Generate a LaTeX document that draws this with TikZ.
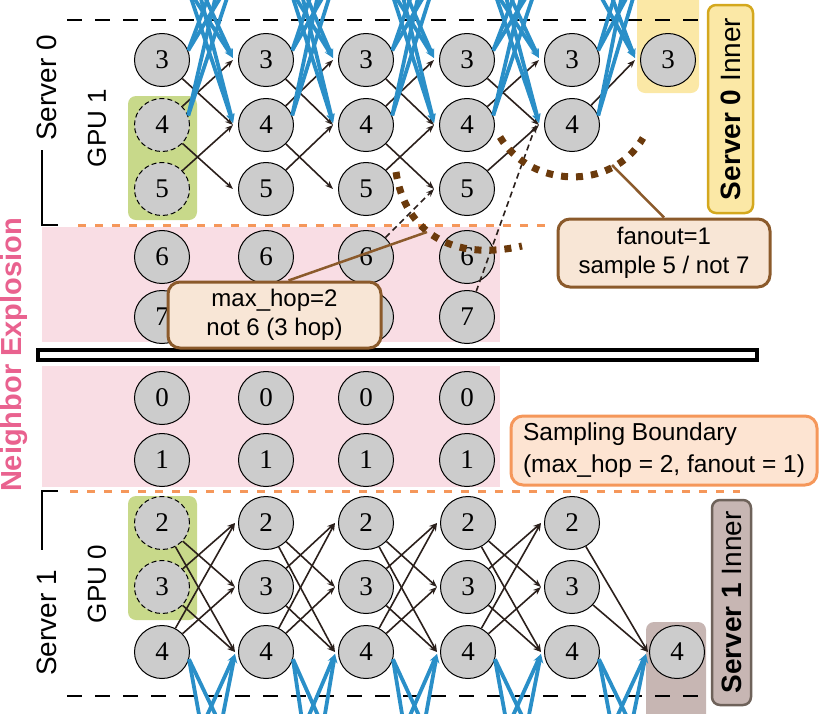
\documentclass[tikz,border=0pt]{standalone}
\usepackage{fontspec}
\setmainfont{Liberation Sans}
\newfontfamily\digitfont{Liberation Serif}
\usetikzlibrary{arrows.meta,calc,shapes.geometric}
\definecolor{nodegray}{HTML}{CCCCCC}
\definecolor{edgeblk}{HTML}{2B201C}
\definecolor{blueE}{HTML}{2A8FC8}
\definecolor{pinkband}{HTML}{F9DDE4}
\definecolor{gpugreen}{HTML}{C8D98A}
\definecolor{orangeD}{HTML}{F5975A}
\definecolor{brownD}{HTML}{6B3A0C}
\definecolor{brownL}{HTML}{8B5A2B}
\definecolor{peach}{HTML}{F8E6D6}
\definecolor{peachB}{HTML}{FDE4D2}
\definecolor{yelF}{HTML}{FBE8A6}
\definecolor{yelD}{HTML}{D4A81E}
\definecolor{sF}{HTML}{C7B6B3}
\definecolor{sD}{HTML}{6E625A}
\definecolor{explo}{HTML}{E9628F}
\begin{document}
\begin{tikzpicture}[x=1pt,y=-1pt,
  vtx/.style={ellipse,draw=black,line width=1pt,fill=nodegray,minimum width=55pt,minimum height=53pt,inner sep=0pt,font=\digitfont\fontsize{27}{27}\selectfont},
  vtxd/.style={vtx,dash pattern=on 5pt off 3pt},
  blk/.style={draw=edgeblk,line width=1.6pt,-{Stealth[length=8pt,width=6pt]}},
  bedge/.style={draw=blueE,line width=3.8pt},
  barrow/.style={bedge,-{Stealth[length=9pt,width=8pt]}},
  sidelbl/.style={rotate=90,inner sep=0pt},
  callout/.style={rounded corners=12pt,line width=3pt,align=center,font=\fontsize{24}{29}\selectfont,inner sep=3pt},
  dotcurve/.style={draw=brownD,line width=7pt,dash pattern=on 7pt off 8pt},
  conn/.style={draw=brownL,line width=2.5pt},
]
\useasboundingbox (0,0) rectangle (830,713);
\clip (0,0) rectangle (830,713);

% backgrounds
\fill[pinkband] (42,227) rectangle (500,342);
\fill[pinkband] (42,366) rectangle (500,487);
\fill[gpugreen,rounded corners=8pt] (128,96) rectangle (197,220);
\fill[gpugreen,rounded corners=8pt] (128,496) rectangle (197,620);
\fill[yelF,rounded corners=8pt] (637,-12) rectangle (699,93);
\fill[sF,rounded corners=8pt] (646,622) rectangle (706,730);

% boundaries
\draw[line width=2pt,dash pattern=on 15pt off 13pt] (67,20) -- (703,20);
\draw[line width=2pt,dash pattern=on 15pt off 13pt] (67,696) -- (707,696);
\draw[orangeD,line width=3pt,dash pattern=on 8pt off 9pt] (78,225) -- (552,225);
\draw[orangeD,line width=3pt,dash pattern=on 8pt off 9pt] (70,491) -- (740,491);
\draw[line width=1.3pt] (58,225) -- (42,225) -- (42,150);
\draw[line width=1.3pt] (58,491) -- (42,491) -- (42,550);

% side labels
\node[sidelbl,font=\fontsize{28}{28}\selectfont] (s0) at (47,88) {Server 0};
\node[sidelbl,font=\fontsize{26}{26}\selectfont] (g1) at (97,128) {GPU 1};
\node[sidelbl,font=\fontsize{28}{28}\selectfont] (s1) at (47,623) {Server 1};
\node[sidelbl,font=\fontsize{26}{26}\selectfont] (g0) at (97,584) {GPU 0};
\node[sidelbl,font=\bfseries\fontsize{29}{29}\selectfont,text=explo] (ne) at (14,355) {Neighbor Explosion};

% top nodes
\foreach \c/\x in {1/266,2/366,3/467}{
  \foreach \r/\y in {3/60,4/125,5/189}{\node[vtx] (t\c\r) at (\x,\y) {\r};}
}
\node[vtx] (t03) at (162,60) {3};
\node[vtxd] (t04) at (162,125) {4};
\node[vtxd] (t05) at (162,189) {5};
\node[vtx] (t43) at (572,60) {3};
\node[vtx] (t44) at (572,125) {4};
\node[vtx] (t53) at (668,60) {3};
\foreach \c/\x in {0/162,1/266,2/366,3/467}{
  \node[vtx] (t\c6) at (\x,257) {6};
  \node[vtx] (t\c7) at (\x,317) {7};
  \node[vtx] (m\c0) at (\x,398) {0};
  \node[vtx] (m\c1) at (\x,460) {1};
}
% bottom nodes
\foreach \c/\x in {1/266,2/366,3/468,4/572}{
  \foreach \r/\y in {2/523,3/587,4/652}{\node[vtx] (b\c\r) at (\x,\y) {\r};}
}
\node[vtxd] (b02) at (162,523) {2};
\node[vtxd] (b03) at (162,587) {3};
\node[vtx] (b04) at (162,652) {4};
\node[vtx] (b54) at (677,652) {4};

% top black edges
\foreach \a/\b in {0/1,1/2,2/3}{
  \foreach \r/\s in {3/4,4/3,4/5,5/4}{\draw[blk] (t\a\r) -- ($(t\b\s.west)+(-5,0)$);}
}
\foreach \r/\s in {3/4,4/3,5/4}{\draw[blk] (t3\r) -- ($(t4\s.west)+(-5,0)$);}
\draw[blk] (t44) -- ($(t53.west)+(-5,0)$);
\draw[blk,dash pattern=on 6pt off 4pt] (t26) -- ($(t35.west)+(-5,0)$);
\draw[blk,dash pattern=on 6pt off 4pt] (t37) -- ($(t44.west)+(-8,0)$);

% bottom black edges
\foreach \a/\b in {0/1,1/2,2/3,3/4}{
  \foreach \r/\s in {2/3,2/4,3/2,3/4,4/2,4/3}{\draw[blk] (b\a\r) -- ($(b\b\s.west)+(-3,0)$);}
}
\draw[blk] (b42) -- ($(b54.west)+(-1,0)$);
\draw[blk] (b43) -- ($(b54.west)+(-1,0)$);

% top blue edges
\foreach \a/\b/\m in {0/1/214,1/2/316,2/3/416.5,3/4/519.5}{
  \draw[bedge] (t\a3.20) -- ({\m-5},-5);
  \draw[bedge] (t\a3.20) -- ({\m+8},-5);
  \draw[bedge] (t\a4.20) -- ({\m+2},-5);
  \draw[bedge] (t\a4.20) -- ({\m+14},-5);
  \draw[barrow] ({\m-22},-5) -- ($(t\b3.west)+(-5,-2)$);
  \draw[barrow] ({\m-10},-5) -- ($(t\b3.west)+(-5,-2)$);
  \draw[barrow] ({\m-24},-5) -- ($(t\b4.west)+(-5,-2)$);
  \draw[barrow] ({\m-14},-5) -- ($(t\b4.west)+(-5,-2)$);
}
\draw[bedge] (t43.20) -- (615,-5);
\draw[bedge] (t43.20) -- (628,-5);
\draw[bedge] (t44.20) -- (622,-5);
\draw[bedge] (t44.20) -- (634,-5);
\draw[barrow] (600,-5) -- ($(t53.west)+(-5,-2)$);
\draw[barrow] (611,-5) -- ($(t53.west)+(-5,-2)$);

% bottom blue edges
\foreach \a/\b/\m in {0/1/214,1/2/316,2/3/417,3/4/520,4/5/624.5}{
  \draw[bedge] (b\a4.-15) -- ({\m-14},720);
  \draw[bedge] (b\a4.-15) -- ({\m+4},720);
  \draw[barrow] ({\m-9},720) -- ($(b\b4.west)+(-3,2)$);
  \draw[barrow] ({\m+8},720) -- ($(b\b4.west)+(-3,2)$);
}

% separator bar
\draw[line width=3.5pt,fill=white] (38,350) rectangle (757,360);

% dotted boundaries
\draw[dotcurve] (396,172) .. controls (405,232) and (452,262) .. (522,246);
\draw[dotcurve] (500,137) .. controls (530,188) and (612,192) .. (643,138);

% callouts
\node[callout,draw=brownL,fill=peach,minimum width=212pt,minimum height=68pt] (fan) at (664,253) {fanout=1\\sample 5 / not 7};
\coordinate (fanend) at (612,165);
\draw[conn] (fan.north) -- (fanend);
\node[callout,draw=brownL,fill=peach,minimum width=213pt,minimum height=66pt] (hop) at (274.5,315) {max\_hop=2\\not 6 (3 hop)};
\coordinate (hopend) at (427,232);
\draw[conn] ($(hop.north)+(14,0)$) -- (hopend);
\node[callout,draw=orangeD,fill=peachB,minimum width=306pt,minimum height=69pt,align=left,font=\fontsize{24.5}{32}\selectfont] (samp) at (664,450.5) {Sampling Boundary\\(max\_hop = 2, fanout = 1)};

% inner labels
\node[sidelbl,draw=yelD,fill=yelF,line width=2.5pt,rounded corners=8pt,minimum width=208pt,minimum height=45pt,font=\fontsize{28}{28}\selectfont] (in0) at (730.5,109) {\textbf{Server 0} Inner};
\node[sidelbl,draw=sD,fill=sF,line width=2.5pt,rounded corners=8pt,minimum width=205pt,minimum height=39pt,font=\fontsize{28}{28}\selectfont] (in1) at (731.5,602.5) {\textbf{Server 1} Inner};
\end{tikzpicture}
\end{document}
